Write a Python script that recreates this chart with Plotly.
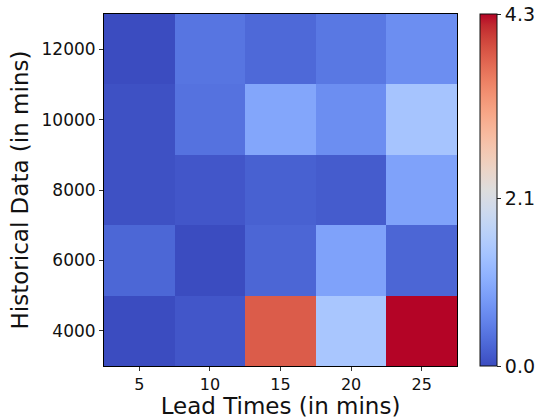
import plotly.graph_objects as go

lead_times = ["5", "10", "15", "20", "25"]
historical = ["4000", "6000", "8000", "10000", "12000"]
# rows follow historical (bottom to top), columns follow lead_times
row_4000 = [0.0, 0.10, 3.80, 1.42, 4.30]
row_6000 = [0.26, 0.0, 0.25, 0.90, 0.25]
row_8000 = [0.05, 0.10, 0.20, 0.15, 0.90]
row_10000 = [0.05, 0.37, 0.95, 0.67, 1.38]
row_12000 = [0.0, 0.40, 0.28, 0.43, 0.67]
cbar_tickvals = [0.0, 2.05, 4.3]
cbar_ticktext = ["0.0", "2.1", "4.3"]

coolwarm = [
    (59, 76, 192), (68, 90, 204), (77, 104, 215), (87, 117, 225), (98, 130, 234),
    (108, 142, 241), (119, 154, 247), (130, 165, 251), (141, 176, 254), (152, 185, 255),
    (163, 194, 255), (174, 201, 253), (184, 208, 249), (194, 213, 244), (204, 217, 238),
    (213, 219, 230), (221, 221, 221), (229, 216, 209), (236, 211, 197), (241, 204, 184),
    (245, 196, 173), (247, 187, 160), (247, 177, 148), (247, 166, 135), (244, 154, 123),
    (241, 141, 111), (236, 127, 99), (229, 112, 88), (222, 96, 77), (213, 80, 66),
    (203, 62, 56), (192, 40, 47), (180, 4, 38),
]
n = len(coolwarm)
colorscale = [[i / (n - 1), "rgb(%d,%d,%d)" % c] for i, c in enumerate(coolwarm)]

z = [row_4000, row_6000, row_8000, row_10000, row_12000]

font = "DejaVu Sans"
L, R, T, B = 104, 84, 14, 53
pw = 541 - L - R

fig = go.Figure(go.Heatmap(
    z=z, x=lead_times, y=historical,
    colorscale=colorscale, zmin=0.0, zmax=4.3,
    colorbar=dict(
        tickvals=cbar_tickvals, ticktext=cbar_ticktext,
        ticks="outside", ticklen=4, tickwidth=1, tickcolor="#222",
        tickfont=dict(family=font, size=19, color="#111"),
        thickness=17, thicknessmode="pixels",
        len=1.0, lenmode="fraction",
        x=(480 - L) / pw, xanchor="left", xpad=0,
        y=0.5, yanchor="middle", ypad=0,
        outlinewidth=1, outlinecolor="#111",
    ),
))

fig.update_layout(
    width=541, height=419,
    margin=dict(l=L, r=R, t=T, b=B, autoexpand=False),
    paper_bgcolor="white", plot_bgcolor="white",
    font=dict(family=font, color="#111"),
    xaxis=dict(
        title=dict(text="Lead Times (in mins)", font=dict(size=23, family=font), standoff=3),
        tickfont=dict(size=16, family=font),
        ticks="outside", ticklen=4, tickcolor="#333",
        showline=True, linecolor="black", linewidth=1, mirror=True,
        showgrid=False, zeroline=False,
    ),
    yaxis=dict(
        title=dict(text="Historical Data (in mins)", font=dict(size=23, family=font), standoff=6),
        tickfont=dict(size=17, family=font),
        ticks="outside", ticklen=4, tickcolor="#333",
        showline=True, linecolor="black", linewidth=1, mirror=True,
        showgrid=False, zeroline=False,
    ),
)

fig.write_html(
    "out.html",
    config={"displayModeBar": False},
    post_script="document.body.style.margin='0';document.body.style.overflow='hidden';",
)
